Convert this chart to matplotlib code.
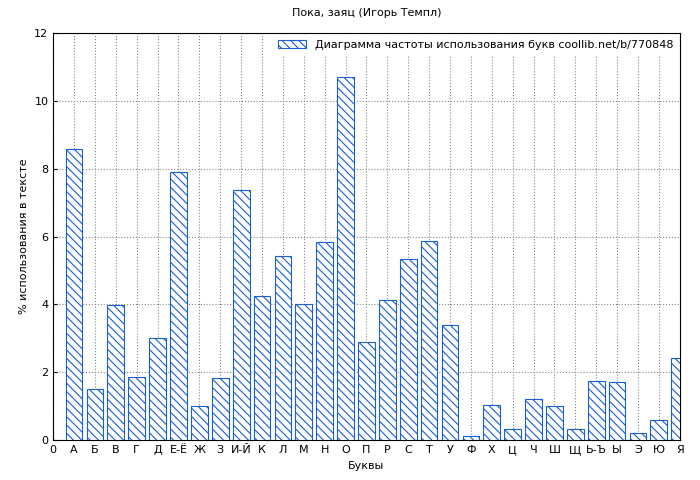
import matplotlib
matplotlib.use("Agg")
import matplotlib.pyplot as plt

plt.rcParams['hatch.color'] = '#1a5fd0'
plt.rcParams['hatch.linewidth'] = 0.8

# Буквы и частоты (%)
labels = ["0", "А", "Б", "В", "Г", "Д", "Е-Ё", "Ж", "З", "И-Й", "К", "Л", "М", "Н", "О",
          "П", "Р", "С", "Т", "У", "Ф", "Х", "Ц", "Ч", "Ш", "Щ", "Ь-Ъ", "Ы", "Э", "Ю", "Я"]
values = [8.57, 1.5, 3.97, 1.85, 3.02, 7.92, 1.02, 1.82, 7.38, 4.25, 5.42, 4.0, 5.85, 10.7,
          2.9, 4.12, 5.35, 5.88, 3.4, 0.12, 1.05, 0.32, 1.22, 1.02, 0.32, 1.75, 1.72, 0.2,
          0.58, 2.42]

fig = plt.figure(figsize=(7, 4.8), dpi=100)
ax = fig.add_axes([0.076, 0.083, 0.895, 0.848])

x = list(range(1, len(values) + 1))
ax.bar(x, values, width=0.8, color='white', edgecolor='#1a5fd0', linewidth=0.8,
       hatch='\\\\\\\\', label='Диаграмма частоты использования букв coollib.net/b/770848',
       zorder=3)

ax.set_xlim(0, 30)
ax.set_ylim(0, 12)
ax.set_xticks(range(len(labels)))
ax.set_xticklabels(labels)
ax.set_yticks(range(0, 13, 2))
ax.tick_params(labelsize=8, direction='in', length=3)
ax.grid(True, linestyle=':', color='#888888', linewidth=0.8, zorder=0)
ax.set_xlabel('Буквы', fontsize=8)
ax.set_ylabel('% использования в тексте', fontsize=8)
ax.set_title('Пока, заяц (Игорь Темпл)', fontsize=8, pad=12)

leg = ax.legend(loc='upper right', fontsize=8, frameon=True, fancybox=False,
                edgecolor='white', handlelength=2.5, borderaxespad=0.2)
leg.get_frame().set_alpha(1)

fig.savefig('out.png', dpi=100)
